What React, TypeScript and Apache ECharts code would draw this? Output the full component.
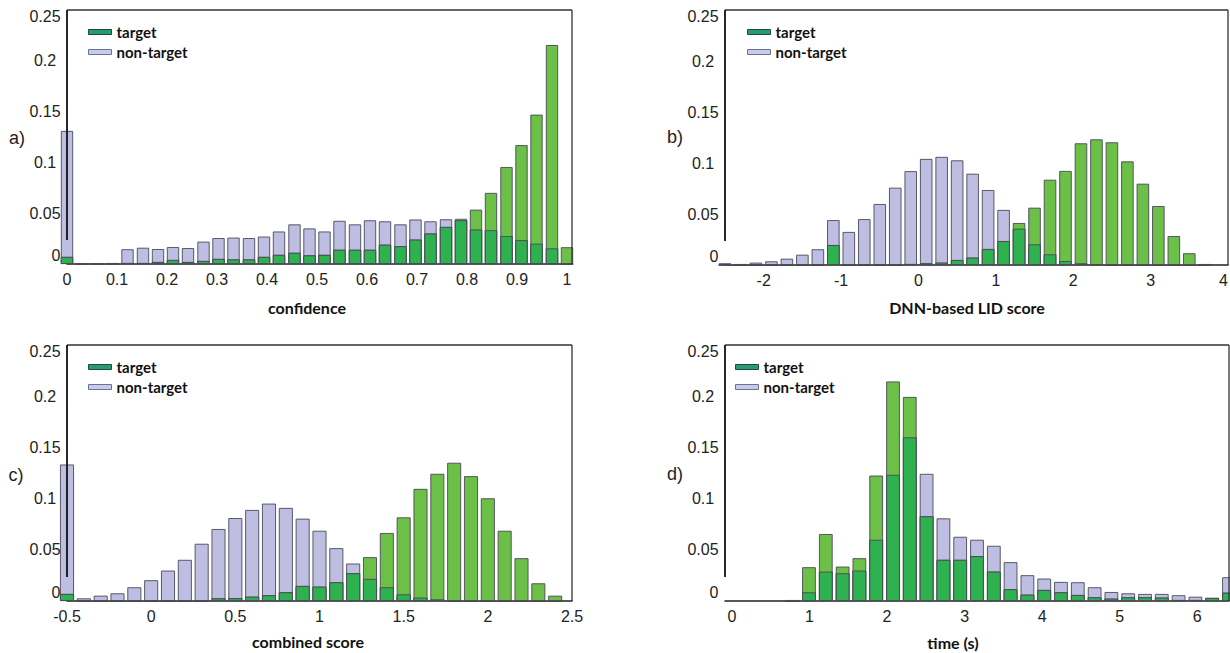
import { useEffect, useRef } from 'react';
import * as echarts from 'echarts';

// a) confidence histogram
const confBins = [0, 0.03, 0.061, 0.091, 0.121, 0.152, 0.182, 0.212, 0.242, 0.273, 0.303, 0.333, 0.364, 0.394, 0.424, 0.455, 0.485, 0.515, 0.545, 0.576, 0.606, 0.636, 0.667, 0.697, 0.727, 0.758, 0.788, 0.818, 0.848, 0.879, 0.909, 0.939, 0.97, 1.0];
const confTarget = [0.007, 0, 0, 0, 0.001, 0.001, 0.002, 0.004, 0.002, 0.003, 0.005, 0.0045, 0.0045, 0.007, 0.009, 0.011, 0.0085, 0.009, 0.014, 0.014, 0.014, 0.019, 0.0175, 0.024, 0.03, 0.0365, 0.043, 0.0535, 0.07, 0.0955, 0.117, 0.147, 0.2155, 0.0165];
const confNonTarget = [0.131, 0, 0, 0.001, 0.0145, 0.016, 0.0147, 0.0167, 0.0157, 0.022, 0.0255, 0.026, 0.0255, 0.027, 0.032, 0.039, 0.035, 0.032, 0.0425, 0.039, 0.043, 0.042, 0.039, 0.0438, 0.042, 0.044, 0.0445, 0.034, 0.0333, 0.0275, 0.0235, 0.02, 0.0154, 0];

// b) DNN-based LID score histogram
const dnnBins = [-2.5, -2.3, -2.1, -1.9, -1.7, -1.5, -1.3, -1.1, -0.9, -0.7, -0.5, -0.3, -0.1, 0.1, 0.3, 0.5, 0.7, 0.9, 1.1, 1.3, 1.5, 1.7, 1.9, 2.1, 2.3, 2.5, 2.7, 2.9, 3.1, 3.3, 3.5, 3.7];
const dnnTarget = [0, 0, 0, 0, 0, 0, 0, 0.0196, 0, 0, 0, 0, 0.001, 0.0017, 0.0023, 0.0049, 0.0072, 0.0157, 0.0235, 0.0412, 0.0562, 0.0836, 0.0922, 0.1193, 0.1232, 0.1203, 0.1016, 0.0797, 0.0578, 0.0284, 0.0115, 0.001];
const dnnNonTarget = [0.0017, 0.001, 0.0023, 0.0036, 0.0062, 0.0101, 0.0154, 0.044, 0.0324, 0.045, 0.0598, 0.0758, 0.092, 0.104, 0.106, 0.1026, 0.0895, 0.0735, 0.054, 0.0356, 0.0203, 0.0105, 0.0039, 0.0017, 0.0007, 0, 0, 0, 0, 0, 0, 0];

// c) combined score histogram
const combBins = [-0.5, -0.4, -0.3, -0.2, -0.1, 0, 0.1, 0.2, 0.3, 0.4, 0.5, 0.6, 0.7, 0.8, 0.9, 1.0, 1.1, 1.2, 1.3, 1.4, 1.5, 1.6, 1.7, 1.8, 1.9, 2.0, 2.1, 2.2, 2.3, 2.4];
const combTarget = [0.0069, 0, 0, 0, 0, 0, 0, 0, 0, 0.0026, 0.0028, 0.0042, 0.0056, 0.0085, 0.0147, 0.014, 0.0183, 0.0271, 0.0428, 0.0664, 0.0817, 0.1095, 0.1242, 0.135, 0.1219, 0.1003, 0.0686, 0.0418, 0.0173, 0.0052];
const combNonTarget = [0.1333, 0.0026, 0.0052, 0.0075, 0.0134, 0.0203, 0.0297, 0.0402, 0.0559, 0.0703, 0.081, 0.0889, 0.0951, 0.0909, 0.0804, 0.0686, 0.0516, 0.0366, 0.0216, 0.0134, 0.0065, 0.0033, 0.0016, 0, 0, 0, 0, 0, 0, 0];

// d) duration histogram
const timeBins = [0.867, 1.083, 1.3, 1.517, 1.733, 1.95, 2.167, 2.383, 2.6, 2.817, 3.033, 3.25, 3.467, 3.683, 3.9, 4.117, 4.333, 4.55, 4.767, 4.983, 5.2, 5.417, 5.633, 5.85, 6.067, 6.283, 6.5];
const timeTarget = [0.001, 0.033, 0.0654, 0.0336, 0.0418, 0.1225, 0.2144, 0.1993, 0.0827, 0.0402, 0.0402, 0.0438, 0.0287, 0.0115, 0.0062, 0.0108, 0.0085, 0.0059, 0.0036, 0.0023, 0.0036, 0.0036, 0.0033, 0.001, 0.001, 0.003, 0.0081];
const timeNonTarget = [0, 0.0085, 0.0287, 0.0271, 0.0297, 0.0598, 0.1232, 0.1598, 0.1242, 0.0807, 0.0627, 0.0598, 0.0539, 0.0379, 0.0252, 0.0219, 0.0186, 0.0183, 0.0134, 0.0088, 0.0075, 0.0069, 0.0069, 0.0056, 0.0042, 0.003, 0.0232];

const yTicks = [0, 0.05, 0.1, 0.15, 0.2, 0.25];

const LAVENDER = '#bebee3';
const LIGHT_GREEN = '#6cbf47';
const DARK_GREEN = '#2eb14f';
const BAR_EDGE = '#4a4a58';
const TICK_FONT = '"Liberation Sans", Arial, sans-serif';
const TITLE_FONT = 'Lato, "Open Sans", sans-serif';

interface Panel {
  letter: string;
  title: string;
  bins: number[];
  target: number[];
  nonTarget: number[];
  left: number;
  top: number;
  width: number;
  height: number;
  xMin: number;
  xMax: number;
  xInterval: number;
  labelStep: number;
  barWidth: number;
  titleShift: number;
  titleGap: number;
  labelShift: number;
  alignMax: boolean;
  letterX: number;
  letterY: number;
  legendX: number;
}

const panels: Panel[] = [
  {
    letter: 'a)', title: 'confidence', bins: confBins, target: confTarget, nonTarget: confNonTarget,
    left: 67, top: 10, width: 505, height: 254, xMin: 0, xMax: 1.01, xInterval: 0.1, labelStep: 0.1,
    barWidth: 12.3, titleShift: 25, titleGap: 35, labelShift: 0, alignMax: false, letterX: 17, letterY: 138, legendX: 88,
  },
  {
    letter: 'b)', title: 'DNN-based LID score', bins: dnnBins, target: dnnTarget, nonTarget: dnnNonTarget,
    left: 725, top: 10, width: 503, height: 255, xMin: -2.5, xMax: 4, xInterval: 0.5, labelStep: 1,
    barWidth: 12.5, titleShift: 19, titleGap: 34, labelShift: 0, alignMax: true, letterX: 675, letterY: 137, legendX: 747,
  },
  {
    letter: 'c)', title: 'combined score', bins: combBins, target: combTarget, nonTarget: combNonTarget,
    left: 67, top: 345, width: 505, height: 256, xMin: -0.5, xMax: 2.5, xInterval: 0.5, labelStep: 0.5,
    barWidth: 14, titleShift: 23, titleGap: 32, labelShift: 0, alignMax: false, letterX: 16, letterY: 475, legendX: 88,
  },
  {
    letter: 'd)', title: 'time (s)', bins: timeBins, target: timeTarget, nonTarget: timeNonTarget,
    left: 725, top: 345, width: 504, height: 256, xMin: 0, xMax: 6.5, xInterval: 0.5, labelStep: 1,
    barWidth: 13.7, titleShift: 48, titleGap: 33, labelShift: 14, alignMax: false, letterX: 675, letterY: 474, legendX: 735,
  },
];

const fmt = (v: number) => String(Number(v.toFixed(3)));

function buildOption() {
  const grid: any[] = [];
  const xAxis: any[] = [];
  const yAxis: any[] = [];
  const series: any[] = [];
  const legend: any[] = [];
  const graphic: any[] = [];

  panels.forEach((p, gi) => {
    grid.push({
      left: p.left, top: p.top, width: p.width, height: p.height,
      containLabel: false, outerBoundsMode: 'none', show: false,
    });

    xAxis.push({
      type: 'value', gridIndex: gi, min: p.xMin, max: p.xMax, interval: p.xInterval,
      name: p.title, nameLocation: 'middle', nameGap: p.titleGap,
      nameTextStyle: {
        fontFamily: TITLE_FONT, fontWeight: 'bold', fontSize: 16, color: '#111',
        padding: [0, p.titleShift, 0, 0],
      },
      axisLine: { show: true, onZero: false, lineStyle: { color: '#222', width: 1.6 } },
      axisTick: { show: false },
      splitLine: { show: false },
      axisLabel: {
        fontFamily: TICK_FONT, fontSize: 16, color: '#222', margin: 7,
        padding: [0, 0, 0, p.labelShift],
        showMinLabel: true, showMaxLabel: true,
        alignMaxLabel: p.alignMax ? 'right' : null,
        formatter: (v: number) => {
          const r = v / p.labelStep;
          if (Math.abs(r - Math.round(r)) > 1e-6) return '';
          return fmt(v);
        },
      },
    });

    yAxis.push({
      type: 'value', gridIndex: gi, min: 0, max: 0.25, interval: 0.05,
      axisLine: { show: false, onZero: false },
      axisTick: { show: false },
      splitLine: { show: false },
      axisLabel: {
        fontFamily: TICK_FONT, fontSize: 16, color: '#222', margin: 22, align: 'center',
        customValues: yTicks,
        formatter: (v: number) => {
          if (Math.abs(v) < 1e-9) return '{z|0}';
          if (Math.abs(v - 0.25) < 1e-9) return '{t|0.25}';
          return fmt(v);
        },
        rich: {
          z: { padding: [0, 0, 18, 22] },
          t: { padding: [12, 0, 0, 0] },
        },
      },
    });

    // Both histograms share a column per bin; the part common to both classes
    // is painted dark green over them, so only the larger class's excess shows
    // in its own colour.
    const both = p.target.map((t, i) => Math.min(t, p.nonTarget[i]));
    const common = {
      type: 'bar', xAxisIndex: gi, yAxisIndex: gi, barWidth: p.barWidth, barGap: '-100%',
      clip: true, silent: true,
    };
    series.push({
      ...common, name: 'non-target',
      itemStyle: { color: LAVENDER, borderColor: BAR_EDGE, borderWidth: 0.9 },
      data: p.bins.map((x, i) => [x, p.nonTarget[i]]),
    });
    series.push({
      ...common, name: 'target',
      itemStyle: { color: LIGHT_GREEN, borderColor: BAR_EDGE, borderWidth: 0.9 },
      data: p.bins.map((x, i) => [x, p.target[i]]),
    });
    series.push({
      ...common, name: 'overlap',
      itemStyle: { color: DARK_GREEN, borderColor: BAR_EDGE, borderWidth: 0.9 },
      data: p.bins.map((x, i) => [x, both[i]]),
    });

    legend.push({
      orient: 'vertical', left: p.legendX, top: p.top + 14.5, padding: 0,
      itemWidth: 23, itemHeight: 5, itemGap: 5, icon: 'rect', selectedMode: false,
      textStyle: { fontFamily: TITLE_FONT, fontWeight: 'bold', fontSize: 15, color: '#111' },
      data: [
        { name: 'target', itemStyle: { color: '#2a9a70', borderColor: '#1d4d3e', borderWidth: 1 } },
        { name: 'non-target', itemStyle: { color: '#c4cbec', borderColor: '#6c7290', borderWidth: 1 } },
      ],
    });

    const right = p.left + p.width;
    const bottom = p.top + p.height;
    graphic.push(
      {
        type: 'line', z: 100, silent: true,
        shape: { x1: p.left, y1: p.top, x2: right, y2: p.top },
        style: { stroke: '#333', lineWidth: 1.3 },
      },
      {
        type: 'line', z: 100, silent: true,
        shape: { x1: right, y1: p.top, x2: right, y2: bottom },
        style: { stroke: '#333', lineWidth: 1.3 },
      },
      {
        type: 'line', z: 100, silent: true,
        shape: { x1: p.left, y1: p.top, x2: p.left, y2: bottom - 24 },
        style: { stroke: '#111', lineWidth: 1.8 },
      },
      {
        type: 'text', z: 100, silent: true, x: p.letterX, y: p.letterY,
        style: {
          text: p.letter, fill: '#222', font: `18px ${TICK_FONT}`,
          align: 'center', verticalAlign: 'middle', textAlign: 'center', textVerticalAlign: 'middle',
        },
      },
    );
  });

  return { animation: false, backgroundColor: '#ffffff', grid, xAxis, yAxis, series, legend, graphic };
}

export default function App() {
  const ref = useRef<HTMLDivElement>(null);
  useEffect(() => {
    if (!ref.current) return;
    const chart = echarts.init(ref.current, undefined, { renderer: 'svg' });
    chart.setOption(buildOption() as any);
    return () => chart.dispose();
  }, []);
  return (
    <div
      ref={ref}
      style={{ position: 'absolute', left: 0, top: 0, width: 1230, height: 653, background: '#fff' }}
    />
  );
}
